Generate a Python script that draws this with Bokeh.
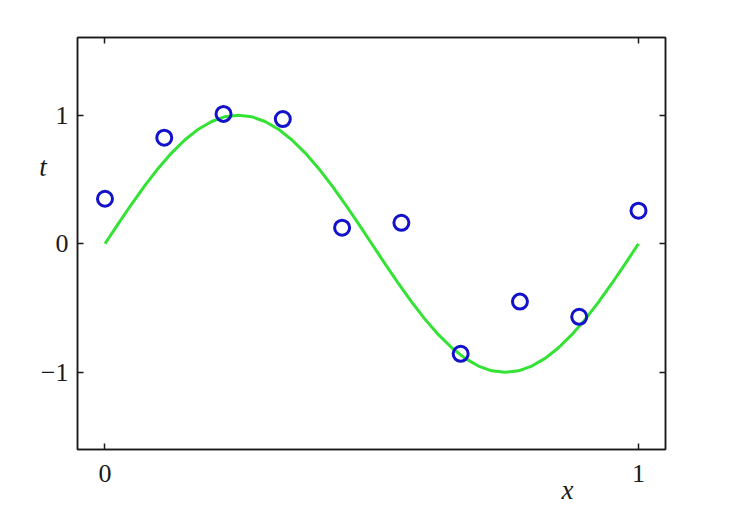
from bokeh.plotting import figure
from bokeh.models import LinearAxis, FixedTicker, Range1d, Title
from bokeh.embed import file_html
from bokeh.resources import INLINE

# observed data points
x_data = [0.0, 1/9, 2/9, 3/9, 4/9, 5/9, 6/9, 7/9, 8/9, 1.0]
t_data = [0.35, 0.825, 1.01, 0.97, 0.125, 0.163, -0.856, -0.45, -0.568, 0.257]

# green curve at steps of 0.025
x_curve = [i * 0.025 for i in range(41)]
t_curve = [0.0, 0.156, 0.309, 0.454, 0.588, 0.707, 0.809, 0.891, 0.951, 0.988,
           1.0, 0.988, 0.951, 0.891, 0.809, 0.707, 0.588, 0.454, 0.309, 0.156,
           0.0, -0.156, -0.309, -0.454, -0.588, -0.707, -0.809, -0.891, -0.951, -0.988,
           -1.0, -0.988, -0.951, -0.891, -0.809, -0.707, -0.588, -0.454, -0.309, -0.156,
           0.0]

x_ticks = [0, 1]
y_ticks = [-1, 0, 1]
y_tick_labels = {-1: "\u22121", 0: "0", 1: "1"}
x_label = "x"
y_label = "t"

FONT = "Liberation Serif"
INK = "#1a1a1a"

p = figure(width=721, height=519, output_backend="svg", toolbar_location=None,
           x_range=Range1d(-0.0515, 1.0506), y_range=Range1d(-1.6, 1.604),
           x_axis_location=None, y_axis_location=None,
           min_border_left=77, min_border_right=56, min_border_top=37, min_border_bottom=70)
p.grid.visible = False
p.outline_line_color = INK
p.outline_line_width = 1.5
p.background_fill_color = "white"
p.border_fill_color = "white"


def style(ax, show_labels):
    ax.major_tick_in = 6
    ax.major_tick_out = 0
    ax.minor_tick_line_color = None
    ax.axis_line_color = INK
    ax.axis_line_width = 1.5
    ax.major_tick_line_color = INK
    ax.major_tick_line_width = 1.5
    ax.major_label_text_font = FONT
    ax.major_label_text_font_size = "26px"
    ax.major_label_text_color = INK
    if not show_labels:
        ax.major_label_text_alpha = 0
        ax.major_label_text_font_size = "1px"


xb = LinearAxis(ticker=FixedTicker(ticks=x_ticks))
style(xb, True)
xb.major_label_standoff = 15
xt = LinearAxis(ticker=FixedTicker(ticks=x_ticks))
style(xt, False)
yl = LinearAxis(ticker=FixedTicker(ticks=y_ticks), major_label_overrides=y_tick_labels)
style(yl, True)
yl.major_label_standoff = 9
# horizontal axis label, lifted above the centre by trailing blank lines
yl.axis_label = y_label + "\n\n\n\n"
yl.axis_label_orientation = "horizontal"
yl.axis_label_text_font = FONT
yl.axis_label_text_font_style = "italic"
yl.axis_label_text_font_size = "27px"
yl.axis_label_text_color = INK
yl.axis_label_text_line_height = 1.27
yl.axis_label_standoff = -9
yr = LinearAxis(ticker=FixedTicker(ticks=y_ticks))
style(yr, False)

p.add_layout(xb, "below")
p.add_layout(xt, "above")
p.add_layout(yl, "left")
p.add_layout(yr, "right")

p.add_layout(Title(text=x_label, align="left", offset=484, standoff=-24,
                   text_font=FONT, text_font_style="italic", text_font_size="27px",
                   text_color=INK), "below")

p.line(x_curve, t_curve, line_color="#33e333", line_width=3)
p.scatter(x_data, t_data, marker="circle", size=15, fill_color=None,
          line_color="#1212cc", line_width=3)

open("out.html", "w").write(file_html(p, INLINE))
